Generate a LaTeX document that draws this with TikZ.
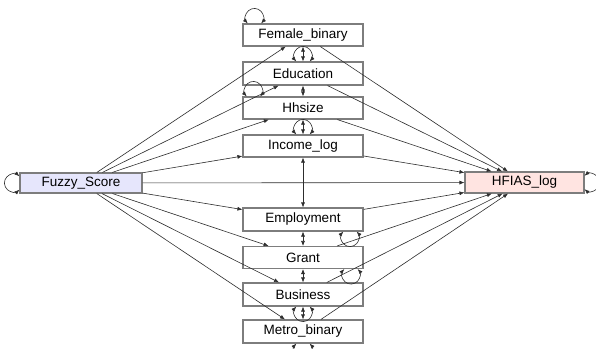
\documentclass[tikz,border=0pt]{standalone}
\usepackage{fontspec}
\setmainfont{Liberation Sans}
\usetikzlibrary{arrows.meta}
\definecolor{fuzzfill}{RGB}{230,230,252}
\definecolor{hfiasfill}{RGB}{255,228,225}
\definecolor{boxline}{RGB}{125,125,125}
\definecolor{edgecol}{RGB}{45,45,45}
\tikzset{
  var/.style={draw=boxline, line width=1.1pt, fill=white, minimum width=120pt,
    minimum height=22pt, inner sep=0pt, font=\fontsize{13.5}{15}\selectfont},
  reg/.style={draw=edgecol, line width=0.6pt, -{Latex[length=5pt,width=4pt]}},
  cov/.style={draw=edgecol, line width=0.6pt,
    {Latex[length=5pt,width=4pt]}-{Latex[length=5pt,width=4pt]}},
}
\newcommand{\loopr}{9pt}
\begin{document}
\begin{tikzpicture}[x=1pt,y=1pt]
\clip (0,0) rectangle (596,-348);
% nodes
\node[var] (fem) at (303,-35) {Female\_binary};
\node[var, minimum height=23pt] (edu) at (303,-73.5) {Education};
\node[var] (hh)  at (303,-108) {Hhsize};
\node[var] (inc) at (303,-146) {Income\_log};
\node[var, minimum height=23pt] (emp) at (303,-219.5) {Employment};
\node[var] (gra) at (303,-257.5) {Grant};
\node[var, minimum height=23pt] (bus) at (303,-294.5) {Business};
\node[var, minimum height=23pt] (met) at (303,-331.5) {Metro\_binary};
\node[var, fill=fuzzfill, minimum width=122pt, minimum height=20pt] (fz) at (81,-183) {Fuzzy\_Score};
\node[var, fill=hfiasfill, minimum width=119pt, minimum height=21pt] (hf) at (524.5,-182.5) {HFIAS\_log};
% regressions
\foreach \m in {fem,edu,hh,inc,emp,gra,bus,met}{
  \draw[reg] (fz) -- (\m);
  \draw[reg] (\m) -- (hf);
}
\draw[reg] (fz) -- (hf);
% covariances between adjacent mediators
\draw[cov] (fem) -- (edu);
\draw[cov] (edu) -- (hh);
\draw[cov] (hh) -- (inc);
\draw[cov] (inc) -- (emp);
\draw[cov] (emp) -- (gra);
\draw[cov] (gra) -- (bus);
\draw[cov] (bus) -- (met);
% variances (loops: circle radius 9, centre 6 off the edge)
\draw[cov] ([xshift=5.3pt]fem.north west) arc[start angle=222, end angle=-42, radius=\loopr];
\draw[cov] ([xshift=-6.7pt]edu.north) arc[start angle=222, end angle=-42, radius=\loopr];
\draw[cov] ([xshift=4.3pt]hh.north west) arc[start angle=222, end angle=-42, radius=\loopr];
\draw[cov] ([xshift=-6.7pt]inc.north) arc[start angle=222, end angle=-42, radius=\loopr];
\draw[cov] ([xshift=40.3pt]emp.south) arc[start angle=138, end angle=402, radius=\loopr];
\draw[cov] ([xshift=41.3pt]gra.south) arc[start angle=138, end angle=402, radius=\loopr];
\draw[cov] ([xshift=-6.7pt]bus.south) arc[start angle=138, end angle=402, radius=\loopr];
\draw[cov] ([xshift=-6.7pt]met.south) arc[start angle=138, end angle=402, radius=\loopr];
\draw[cov] ([yshift=6.7pt]fz.west) arc[start angle=48, end angle=312, radius=\loopr];
\draw[cov] ([yshift=6.7pt]hf.east) arc[start angle=132, end angle=-132, radius=\loopr];
\end{tikzpicture}
\end{document}
